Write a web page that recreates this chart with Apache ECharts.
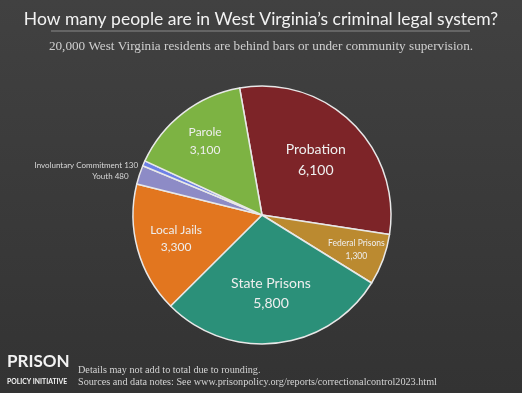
<!DOCTYPE html>
<html><head><meta charset="utf-8">
<script src="https://cdn.jsdelivr.net/npm/echarts@6/dist/echarts.min.js"></script>
<style>html,body{margin:0;padding:0;background:#3b3b3b}#c{width:522px;height:393px}</style>
</head><body><div id="c"></div>
<script>
const categories = ['Probation','Federal Prisons','State Prisons','Local Jails','Youth','Involuntary Commitment','Parole'];
const values = [6100,1300,5800,3300,480,130,3100];
const colors = ['#7d2428','#bb8a30','#2b9079','#e2761f','#8d8bc6','#6d80e6','#7db343'];
const labelSizes = [14,8.5,14,12,8,8,12];
const labelScale = [1.14,1.49,1.17,1.32,1,1,1.38];
const outsideItems = ['Youth','Involuntary Commitment'];

const W = 522, H = 393;
const CX = 262, CY = 215, R = 129;

const data = categories.map((name,i)=>{
  const outside = outsideItems.indexOf(name) >= 0;
  return {
    name, value: values[i],
    itemStyle:{color:colors[i]},
    label: outside ? {
      position:'outside', fontSize:labelSizes[i], color:'#d8d8d8',
      formatter: p => p.name + ' ' + p.value.toLocaleString('en-US')
    } : {
      position:'inside', fontSize:labelSizes[i], color:'#eeeeee', lineHeight: labelSizes[i]*1.45,
      formatter: p => p.name + '\n' + p.value.toLocaleString('en-US')
    },
    labelLine: outside ? {show:false, length:3, length2:3} : {show:false}
  };
});

const chart = echarts.init(document.getElementById('c'), null, {renderer:'canvas'});
chart.setOption({
  backgroundColor: {type:'linear', x:0, y:0, x2:0, y2:1, colorStops:[{offset:0,color:'#414141'},{offset:1,color:'#333333'}]},
  animation:false,
  textStyle:{fontFamily:'Lato'},
  title:[
    {text:'How many people are in West Virginia\u2019s criminal legal system?', left:'center', top:5,
     textStyle:{color:'#f2f2f2', fontSize:17.5, fontWeight:'normal', fontFamily:'Lato'}},
    {text:'20,000 West Virginia residents are behind bars or under community supervision.', left:'center', top:35,
     textStyle:{color:'#cfcfcf', fontSize:13.2, fontWeight:'normal', fontFamily:'Liberation Serif'}}
  ],
  graphic:[
    {type:'line', shape:{x1:51, y1:31, x2:470, y2:31}, style:{stroke:'#8a8a8a', lineWidth:1}},
    {type:'text', left:7, top:353, style:{text:'PRISON', fill:'#f2f2f2', font:'bold 17px Lato'}},
    {type:'text', left:7, top:378, style:{text:'POLICY INITIATIVE', fill:'#f2f2f2', font:'bold 6.8px Lato'}},
    {type:'text', left:78, top:365, style:{text:'Details may not add to total due to rounding.', fill:'#d4d4d4', font:'10.2px Liberation Serif'}},
    {type:'text', left:78, top:377, style:{text:'Sources and data notes: See www.prisonpolicy.org/reports/correctionalcontrol2023.html', fill:'#d4d4d4', font:'10.2px Liberation Serif'}}
  ],
  series:[{
    type:'pie',
    center:[CX, CY],
    radius:[0, R],
    startAngle:100,
    clockwise:true,
    avoidLabelOverlap:false,
    itemStyle:{borderColor:'#e8e8e8', borderWidth:1.5},
    labelLayout: function(params){
      const i = params.dataIndex;
      const s = labelScale[i];
      if (categories[i] === 'Involuntary Commitment') return {dx:5, dy:3};
      if (categories[i] === 'Youth') return {dy:3};
      const r = params.labelRect;
      const lx = r.x + r.width/2, ly = r.y + r.height/2;
      return {dx:(lx-CX)*(s-1), dy:(ly-CY)*(s-1)};
    },
    data
  }]
});
</script></body></html>
